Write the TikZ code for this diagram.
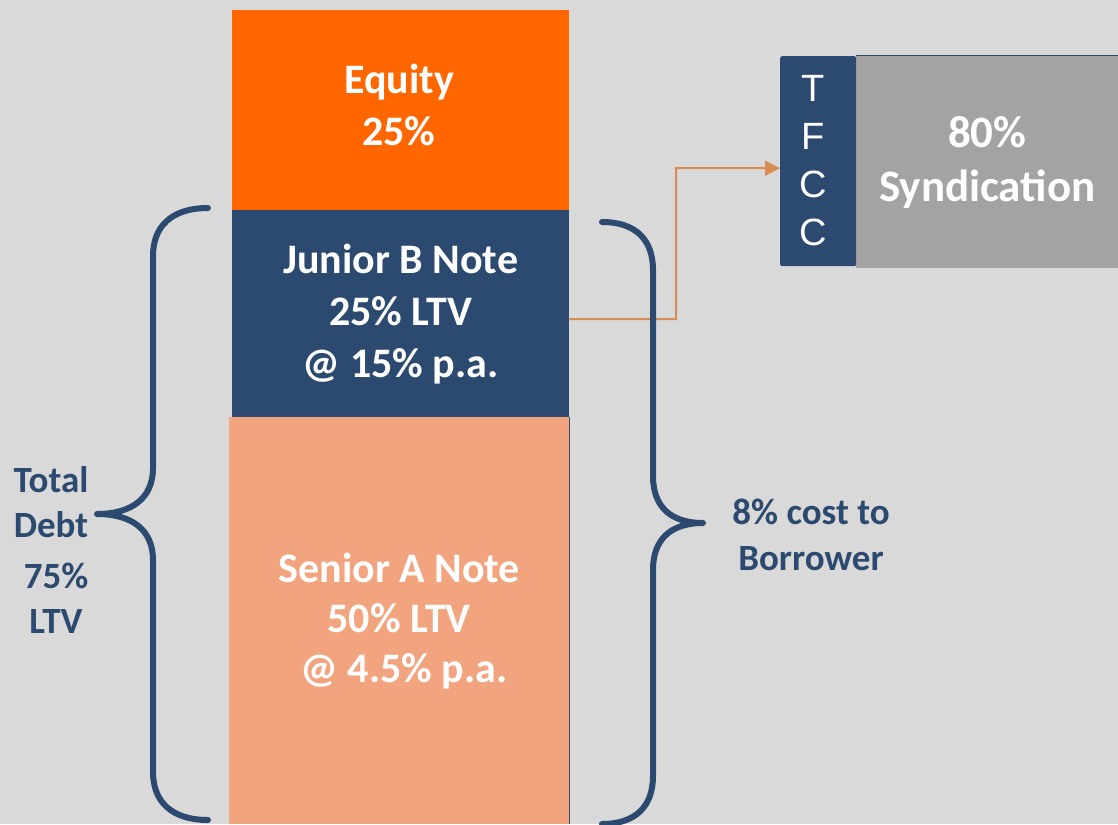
\documentclass[tikz,border=0pt]{standalone}
\usepackage{fontspec}
\setmainfont{Carlito}
\newfontfamily\arialf{Liberation Sans}
\usetikzlibrary{arrows.meta}
\definecolor{bg}{HTML}{D9D9D9}
\definecolor{eqor}{HTML}{FF6600}
\definecolor{navy}{HTML}{2C4A6F}
\definecolor{salmon}{HTML}{F2A47F}
\definecolor{grayb}{HTML}{A3A3A3}
\definecolor{arrowc}{HTML}{D68C52}
\tikzset{
 block/.style={anchor=north west, inner sep=0pt, align=center, text=white, font=\bfseries\fontsize{42}{52}\selectfont},
 boxtext/.style={inner sep=0pt, align=center, text=white, font=\bfseries\fontsize{42}{52}\selectfont},
 brace/.style={draw=navy, line width=6pt, line cap=round, line join=round},
 lbl/.style={text=navy, align=center, font=\bfseries\fontsize{37}{45}\selectfont},
 conn/.style={draw=arrowc, line width=2pt, -{Triangle[length=15pt,width=15pt]}},
}
\begin{document}
\begin{tikzpicture}[x=1pt,y=-1pt]
\useasboundingbox (0,0) rectangle (1118,824);
\fill[bg] (0,0) rectangle (1118,824);
\node[block, fill=eqor, minimum width=337pt, minimum height=200pt] (equity) at (232,10) {};
\node[boxtext] (equitytext) at (399,105) {Equity\\25\%};
\node[block, fill=navy, minimum width=337pt, minimum height=207pt] (junior) at (232,210) {Junior B Note\\25\% LTV\\@ 15\% p.a.};
\node[block, fill=salmon, minimum width=340pt, minimum height=407pt, font=\bfseries\fontsize{42}{50}\selectfont] (senior) at (229,417) {Senior A Note\\50\% LTV\\\ @ 4.5\% p.a.};
\draw[navy, line width=0.8pt] (senior.north east) -- (senior.south east);
\node[block, fill=grayb, minimum width=262pt, minimum height=212pt, font=\bfseries\fontsize{45}{54}\selectfont] (synd) at (856,56) {80\%\\Syndication};
\draw[navy, line width=1pt] (synd.north west) -- (synd.north east);
\node[anchor=north west, fill=navy, rounded corners=2pt, minimum width=76pt, minimum height=210pt, inner sep=0pt, text=white, align=center, font=\arialf\fontsize{38}{48}\selectfont] (tfcc) at (780,56) {};
\node[inner sep=0pt, text=white, align=center, font=\arialf\fontsize{38}{48}\selectfont] (tfcctext) at (813,161) {T\\F\\C\\C};
\draw[conn] ([yshift=-5.5pt]junior.east) -- (676,319) |- ([yshift=-7pt]tfcc.west);
\draw[brace] (208,208) .. controls (172,208) and (153,226) .. (153,256) -- (153,468) .. controls (153,498) and (132,514) .. (97,514) .. controls (132,514) and (153,530) .. (153,560) -- (153,772) .. controls (153,802) and (172,820) .. (208,820);
\draw[brace] (602,222) .. controls (636,222) and (653,240) .. (653,270) -- (653,476) .. controls (653,506) and (670,523) .. (703,523) .. controls (670,523) and (653,540) .. (653,570) -- (653,776) .. controls (653,806) and (636,824) .. (602,824);
\node[lbl] (total) at (51,502) {Total\\Debt};
\node[lbl] (ltv) at (56,598) {75\%\\LTV};
\node[lbl, font=\bfseries\fontsize{37}{46}\selectfont] (cost) at (811,535) {8\% cost to\\Borrower};
\end{tikzpicture}
\end{document}
